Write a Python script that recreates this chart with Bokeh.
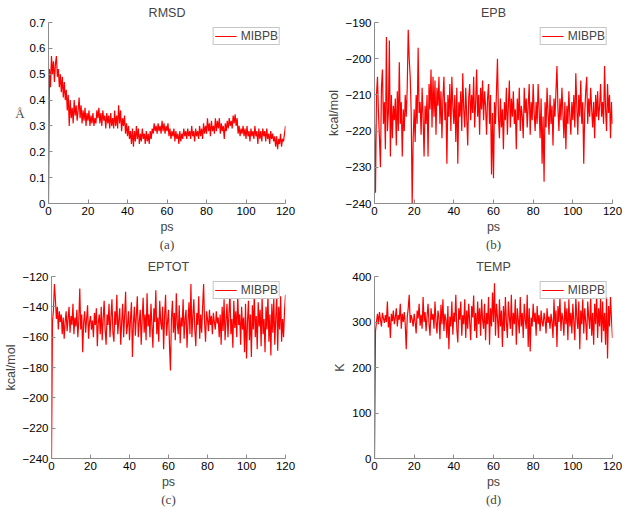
from bokeh.plotting import figure
from bokeh.layouts import column, row
from bokeh.models import Range1d, FixedTicker, Title, Legend, LegendItem
from bokeh.embed import file_html
from bokeh.resources import INLINE
import numpy as np

# sampling grid (ps), one value every 0.5 ps
time_ps = np.arange(0, 120.5, 0.5)

rmsd = [
    0.00, 0.52, 0.45, 0.57, 0.50, 0.55, 0.47, 0.54, 0.57, 0.49,
    0.52, 0.45, 0.50, 0.43, 0.49, 0.41, 0.47, 0.40, 0.44, 0.36,
    0.42, 0.30, 0.40, 0.33, 0.37, 0.31, 0.40, 0.34, 0.38, 0.32,
    0.36, 0.41, 0.33, 0.38, 0.31, 0.36, 0.32, 0.37, 0.30, 0.35,
    0.32, 0.36, 0.30, 0.34, 0.31, 0.35, 0.30, 0.33, 0.31, 0.36,
    0.33, 0.37, 0.31, 0.35, 0.30, 0.36, 0.32, 0.34, 0.29, 0.35,
    0.31, 0.34, 0.29, 0.35, 0.30, 0.33, 0.29, 0.36, 0.30, 0.34,
    0.29, 0.38, 0.31, 0.36, 0.28, 0.33, 0.30, 0.34, 0.27, 0.31,
    0.26, 0.30, 0.25, 0.28, 0.23, 0.29, 0.22, 0.28, 0.24, 0.30,
    0.25, 0.29, 0.23, 0.27, 0.24, 0.29, 0.25, 0.27, 0.23, 0.28,
    0.24, 0.27, 0.23, 0.28, 0.25, 0.29, 0.27, 0.31, 0.28, 0.30,
    0.27, 0.31, 0.28, 0.30, 0.27, 0.32, 0.28, 0.31, 0.27, 0.30,
    0.28, 0.31, 0.26, 0.29, 0.25, 0.28, 0.26, 0.29, 0.24, 0.28,
    0.25, 0.27, 0.23, 0.28, 0.24, 0.27, 0.25, 0.29, 0.26, 0.28,
    0.25, 0.29, 0.26, 0.28, 0.25, 0.30, 0.26, 0.28, 0.24, 0.29,
    0.26, 0.28, 0.25, 0.30, 0.26, 0.29, 0.25, 0.31, 0.27, 0.30,
    0.27, 0.33, 0.28, 0.31, 0.26, 0.32, 0.28, 0.30, 0.27, 0.33,
    0.28, 0.32, 0.29, 0.33, 0.27, 0.31, 0.28, 0.30, 0.25, 0.31,
    0.28, 0.32, 0.29, 0.33, 0.30, 0.32, 0.29, 0.34, 0.31, 0.345,
    0.30, 0.33, 0.27, 0.30, 0.26, 0.29, 0.27, 0.30, 0.26, 0.29,
    0.25, 0.30, 0.26, 0.28, 0.24, 0.29, 0.26, 0.28, 0.25, 0.30,
    0.26, 0.28, 0.23, 0.29, 0.25, 0.28, 0.24, 0.29, 0.26, 0.28,
    0.24, 0.29, 0.25, 0.27, 0.23, 0.28, 0.25, 0.27, 0.24, 0.26,
    0.22, 0.26, 0.21, 0.25, 0.23, 0.27, 0.22, 0.25, 0.24, 0.27,
    0.30,
]

epb = [
    -218, -237, -210, -205, -215, -222, -230, -208, -203, -218,
    -212, -225, -194, -220, -215, -195, -227, -210, -222, -213,
    -217, -211, -224, -209, -220, -201, -218, -212, -227, -214,
    -220, -210, -216, -208, -192, -200, -205, -215, -240, -222,
    -214, -223, -210, -218, -197, -215, -212, -221, -208, -216,
    -227, -213, -218, -210, -227, -207, -214, -203, -219, -205,
    -216, -206, -221, -208, -213, -205, -218, -209, -222, -211,
    -205, -217, -212, -229, -210, -216, -207, -220, -205, -213,
    -218, -210, -223, -208, -229, -212, -216, -209, -220, -204,
    -214, -219, -208, -216, -224, -211, -207, -217, -210, -215,
    -205, -219, -212, -203, -216, -210, -221, -208, -214, -206,
    -217, -209, -213, -221, -211, -207, -218, -210, -232, -215,
    -233, -212, -218, -209, -200, -216, -222, -211, -219, -214,
    -225, -212, -217, -208, -221, -213, -206, -219, -211, -216,
    -209, -218, -214, -225, -211, -217, -208, -220, -213, -216,
    -222, -208, -215, -211, -219, -213, -207, -221, -212, -217,
    -207, -215, -220, -212, -218, -207, -214, -222, -211, -229,
    -216, -234, -212, -219, -208, -215, -221, -210, -218, -213,
    -224, -211, -216, -209, -202, -214, -220, -211, -217, -208,
    -215, -222, -212, -225, -213, -218, -209, -216, -221, -212,
    -217, -210, -219, -204, -213, -221, -210, -216, -206, -218,
    -212, -229, -215, -209, -205, -218, -211, -216, -208, -214,
    -219, -212, -222, -210, -216, -209, -217, -213, -207, -216,
    -212, -218, -202, -214, -220, -207, -215, -210, -222, -212,
    -218,
]

eptot = [
    -240, -150, -142, -125, -135, -148, -140, -155, -143, -150,
    -145, -158, -147, -161, -150, -143, -156, -148, -140, -157,
    -146, -152, -138, -158, -147, -153, -142, -160, -149, -128,
    -155, -145, -170, -150, -143, -157, -148, -139, -161, -150,
    -146, -155, -149, -160, -144, -152, -141, -166, -150, -145,
    -158, -140, -162, -148, -136, -155, -165, -145, -152, -138,
    -160, -147, -135, -157, -163, -143, -152, -132, -158, -149,
    -141, -165, -150, -138, -160, -146, -130, -158, -152, -143,
    -162, -148, -137, -173, -151, -140, -159, -146, -133, -160,
    -150, -142, -165, -148, -134, -157, -145, -162, -131, -153,
    -145, -160, -138, -152, -167, -141, -150, -129, -158, -147,
    -163, -136, -150, -155, -140, -168, -146, -132, -159, -150,
    -142, -165, -182, -148, -136, -157, -144, -162, -131, -151,
    -158, -139, -164, -147, -153, -135, -161, -148, -142, -167,
    -150, -137, -158, -125, -160, -146, -135, -155, -166, -144,
    -152, -133, -161, -145, -157, -140, -125, -150, -163, -143,
    -148, -156, -142, -152, -146, -158, -144, -150, -155, -143,
    -151, -147, -160, -145, -165, -140, -156, -135, -162, -149,
    -138, -160, -145, -130, -158, -148, -167, -136, -154, -143,
    -160, -132, -152, -145, -165, -140, -155, -147, -170, -138,
    -174, -150, -136, -162, -145, -173, -139, -155, -131, -160,
    -146, -168, -137, -153, -142, -166, -133, -158, -148, -170,
    -140, -155, -132, -163, -145, -172, -138, -157, -134, -165,
    -147, -133, -169, -140, -155, -133, -163, -148, -160, -143,
    -132,
]

temp = [
    0, 280, 300, 318, 295, 322, 305, 290, 320, 308,
    298, 315, 300, 345, 288, 312, 265, 318, 302, 325,
    295, 310, 330, 290, 315, 305, 340, 285, 318, 300,
    322, 295, 240, 310, 330, 360, 298, 315, 305, 290,
    318, 300, 275, 325, 308, 340, 292, 316, 285, 355,
    300, 322, 280, 312, 340, 295, 270, 330, 305, 318,
    285, 345, 300, 275, 325, 310, 262, 338, 295, 350,
    280, 318, 305, 265, 335, 240, 312, 290, 345, 272,
    320, 300, 360, 285, 255, 330, 305, 345, 270, 315,
    295, 350, 265, 325, 285, 340, 300, 260, 335, 310,
    358, 280, 320, 265, 345, 295, 330, 270, 350, 305,
    285, 340, 260, 320, 295, 355, 250, 330, 290, 365,
    300, 385, 270, 340, 310, 265, 350, 290, 325, 245,
    335, 280, 355, 300, 265, 345, 310, 285, 360, 270,
    320, 295, 350, 250, 330, 305, 275, 355, 290, 320,
    265, 340, 305, 285, 360, 245, 330, 235, 310, 290,
    340, 300, 320, 270, 335, 295, 315, 280, 325, 300,
    290, 320, 305, 275, 330, 298, 312, 285, 318, 300,
    265, 350, 290, 325, 245, 335, 300, 355, 280, 320,
    305, 270, 345, 295, 330, 260, 350, 290, 320, 275,
    340, 300, 260, 355, 310, 285, 345, 240, 325, 295,
    350, 275, 330, 300, 260, 345, 310, 285, 355, 270,
    320, 250, 340, 295, 360, 265, 330, 290, 355, 255,
    345, 280, 320, 250, 355, 220, 335, 290, 355, 305,
    265,
]

x_ticks = [0, 20, 40, 60, 80, 100, 120]

panels = [
    dict(title="RMSD", ylabel="Å", y=rmsd, yr=(0, 0.7),
         yt=[0, 0.1, 0.2, 0.3, 0.4, 0.5, 0.6, 0.7], cap="(a)"),
    dict(title="EPB", ylabel="kcal/mol", y=epb, yr=(-240, -190),
         yt=[-240, -230, -220, -210, -200, -190], cap="(b)"),
    dict(title="EPTOT", ylabel="kcal/mol", y=eptot, yr=(-240, -120),
         yt=[-240, -220, -200, -180, -160, -140, -120], cap="(c)"),
    dict(title="TEMP", ylabel="K", y=temp, yr=(0, 400),
         yt=[0, 100, 200, 300, 400], cap="(d)"),
]

SANS = "Liberation Sans"
SERIF = "Liberation Serif"
AX = "#8c8c8c"


def tick_text(v):
    s = ("%g" % v)
    return s.replace("-", "\u2212")


def make(i, d):
    left_col = (i % 2 == 0)
    top_row = (i < 2)
    width = 310 if left_col else 315
    height = 253 if top_row else 256
    p = figure(width=width, height=height, output_backend="svg",
               toolbar_location=None, tools="",
               x_range=Range1d(0, 120), y_range=Range1d(*d["yr"]))
    p.min_border_left = 48 if left_col else 64
    p.min_border_right = 25 if left_col else 13
    p.min_border_top = 22 if top_row else 23
    p.min_border_bottom = 50 if top_row else 51
    p.outline_line_color = None
    p.background_fill_color = "white"
    p.border_fill_color = "white"
    p.xgrid.visible = False
    p.ygrid.visible = False

    p.title.text = d["title"]
    p.title.align = "center"
    p.title.text_font = SANS
    p.title.text_font_style = "normal"
    p.title.text_font_size = "12.5px"
    p.title.standoff = 5 if top_row else 6
    p.title.offset = 0

    for ax in (p.xaxis[0], p.yaxis[0]):
        ax.axis_line_color = AX
        ax.major_tick_line_color = AX
        ax.major_tick_in = 4
        ax.major_tick_out = 0
        ax.minor_tick_line_color = None
        ax.major_label_text_font = SANS
        ax.major_label_text_font_size = "11.5px"
        ax.major_label_text_color = "black"
        ax.major_label_standoff = 3
        ax.axis_label_text_font = SANS
        ax.axis_label_text_font_size = "12.5px"
        ax.axis_label_text_font_style = "normal"
        ax.axis_label_standoff = 2

    p.xaxis.ticker = FixedTicker(ticks=x_ticks)
    p.yaxis.ticker = FixedTicker(ticks=d["yt"])
    p.xaxis.major_label_overrides = {t: tick_text(t) for t in x_ticks}
    p.yaxis.major_label_overrides = {t: tick_text(t) for t in d["yt"]}
    p.xaxis.axis_label = "ps"
    p.yaxis.axis_label = d["ylabel"]
    if d["ylabel"] == "Å":
        p.yaxis.axis_label_orientation = "horizontal"
        p.yaxis.axis_label_text_font = SERIF
        p.yaxis.axis_label_text_font_size = "13px"

    r = p.line(time_ps, d["y"], line_color="#ff0000", line_width=1.2)

    leg = Legend(items=[LegendItem(label="MIBPB", renderers=[r])],
                 location="top_right")
    leg.border_line_color = AX
    leg.border_line_width = 1
    leg.background_fill_color = "white"
    leg.background_fill_alpha = 1
    leg.label_text_font = SANS
    leg.label_text_font_size = "12px"
    leg.glyph_width = 22
    leg.glyph_height = 10
    leg.label_height = 10
    leg.label_standoff = 4
    leg.padding = 1
    leg.spacing = 0
    leg.margin = 5
    p.add_layout(leg)

    cap = Title(text=d["cap"], align="center", text_font=SERIF,
                text_font_style="normal", text_font_size="13px",
                standoff=-4)
    p.add_layout(cap, "below")
    return p


figs = [make(i, d) for i, d in enumerate(panels)]
layout = column(row(figs[0], figs[1]), row(figs[2], figs[3]))

open("out.html", "w").write(file_html(layout, INLINE))
